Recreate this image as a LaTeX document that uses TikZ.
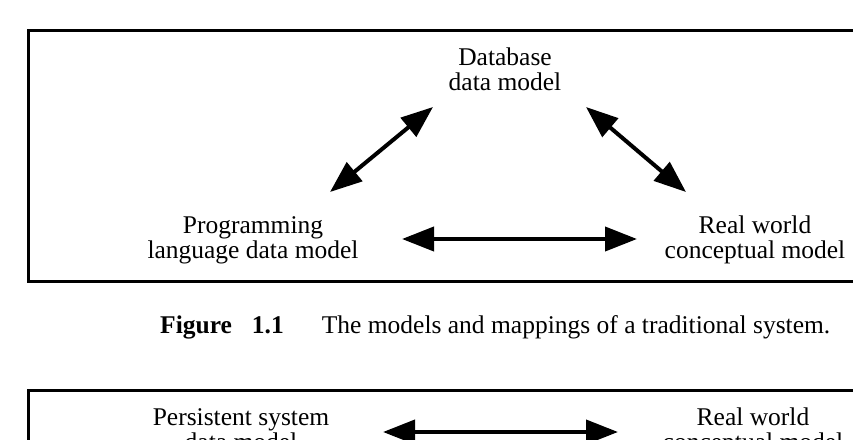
\documentclass[tikz,border=0pt]{standalone}
\usepackage{fontspec}
\setmainfont{Liberation Serif}
\usetikzlibrary{arrows.meta}
\tikzset{
  >={Triangle[length=32pt,width=24pt]},
  frame/.style={draw=black,line width=3pt},
  model/.style={align=center,inner sep=0pt,anchor=base,
    font=\fontsize{25.5}{25}\selectfont},
  link/.style={<->,line width=4pt,draw=black},
  caption/.style={inner sep=0pt,anchor=base west,font=\fontsize{25.5}{25}\selectfont},
}
\begin{document}
\begin{tikzpicture}[x=1pt,y=-1pt]
  \useasboundingbox (0,0) rectangle (853,439);
  \clip (0,0) rectangle (853,439);
  % upper figure
  \draw[frame] (28,30) rectangle (880,281);
  \node[model] (db) at (505,90) {Database\\data model};
  \node[model] (pl) at (253,258) {Programming\\language data model};
  \node[model] (rw) at (755,258) {Real world\\conceptual model};
  \draw[link] ([shift={(-72,17)}]db.base) -- ([shift={(77,-66)}]pl.base);
  \draw[link] ([shift={(81,17)}]db.base) -- ([shift={(-69,-66)}]rw.base);
  \draw[link] ([shift={(149,-19)}]pl.base) -- ([shift={(-118,-19)}]rw.base);
  \node[caption] (cap) at (160,333)
    {{\bfseries Figure\hspace{20pt}1.1}\hspace{38pt}The models and mappings of a traditional system.};
  % lower figure
  \draw[frame] (28,390) rectangle (880,500);
  \node[model] (ps) at (241,450) {Persistent system\\data model};
  \node[model] (rw2) at (753,450) {Real world\\conceptual model};
  \draw[link] ([shift={(142,-18)}]ps.base) -- ([shift={(-135,-18)}]rw2.base);
\end{tikzpicture}
\end{document}
